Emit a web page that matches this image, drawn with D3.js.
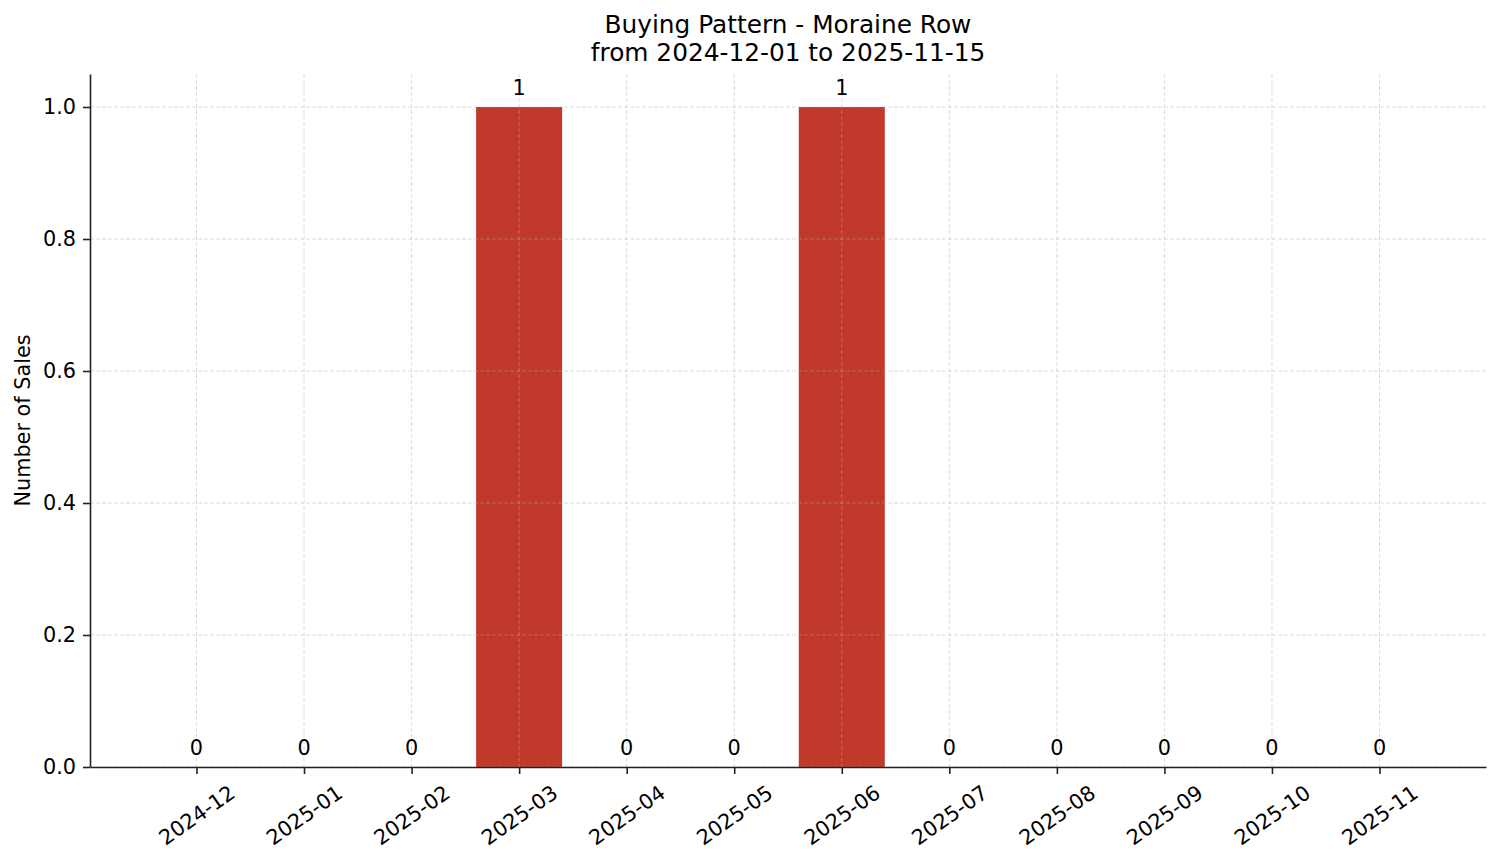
<!DOCTYPE html>
<html>
<head>
<meta charset="utf-8">
<script src="https://cdn.jsdelivr.net/npm/d3@7"></script>
<style>
  body { margin: 0; background: #fff; }
  svg { font-family: "DejaVu Sans", sans-serif; }
</style>
</head>
<body>
<svg></svg>
<script>
const WIDTH = 1501;
const HEIGHT = 863;

// data
const months = ["2024-12", "2025-01", "2025-02", "2025-03", "2025-04", "2025-05",
                "2025-06", "2025-07", "2025-08", "2025-09", "2025-10", "2025-11"];
const sales = [0, 0, 0, 1, 0, 0, 1, 0, 0, 0, 0, 0];
const yTicks = [0, 0.2, 0.4, 0.6, 0.8, 1.0];

const titleLines = ["Buying Pattern - Moraine Row", "from 2024-12-01 to 2025-11-15"];
const yLabel = "Number of Sales";

const LEFT = 90, RIGHT = 1486, TOP = 74, BOTTOM = 767;
const FONT = 20.8;

let svg = d3.select("svg")
    .attr("width", WIDTH)
    .attr("height", HEIGHT);

// bar band of 0.8 with 0.05 margins, like matplotlib
let x = d3.scaleLinear()
    .domain([-0.99, months.length - 1 + 0.99])
    .range([LEFT, RIGHT]);

let y = d3.scaleLinear()
    .domain([0, 1.05])
    .range([BOTTOM, TOP]);

const barW = x(0.8) - x(0);

// bars
svg.append("g")
    .selectAll("rect")
    .data(sales)
    .join("rect")
    .attr("x", (d, i) => x(i) - barW / 2)
    .attr("y", d => y(d))
    .attr("width", barW)
    .attr("height", d => y(0) - y(d))
    .style("fill", "#c0392b");

// grid on top of bars
let grid = svg.append("g")
    .style("stroke", "#b0b0b0")
    .style("stroke-opacity", 0.55)
    .style("stroke-width", 0.8)
    .style("stroke-dasharray", "4,2");

grid.selectAll("line.h")
    .data(yTicks)
    .join("line")
    .attr("class", "h")
    .attr("x1", LEFT)
    .attr("x2", RIGHT)
    .attr("y1", d => y(d))
    .attr("y2", d => y(d));

grid.selectAll("line.v")
    .data(months)
    .join("line")
    .attr("class", "v")
    .attr("x1", (d, i) => x(i))
    .attr("x2", (d, i) => x(i))
    .attr("y1", TOP)
    .attr("y2", BOTTOM);

// y axis
let yAxis = svg.append("g")
    .attr("transform", `translate(${LEFT},0)`)
    .call(d3.axisLeft(y).tickValues(yTicks).tickFormat(d3.format(".1f"))
        .tickSize(7).tickSizeOuter(0).tickPadding(7));

// x axis
let xAxis = svg.append("g")
    .attr("transform", `translate(0,${BOTTOM})`)
    .call(d3.axisBottom(x).tickValues(d3.range(months.length)).tickFormat(i => months[i])
        .tickSize(7).tickSizeOuter(0).tickPadding(7));

[yAxis, xAxis].forEach(a => {
    a.select(".domain").style("stroke", "#222").style("stroke-width", 1.6);
    a.selectAll(".tick line").style("stroke", "#222").style("stroke-width", 1.6);
    a.selectAll("text")
        .style("font-family", "DejaVu Sans")
        .style("font-size", FONT + "px")
        .style("fill", "#000");
});

// rotated x labels: bounding box centred under the tick
const ang = 35 * Math.PI / 180;
xAxis.selectAll(".tick text").each(function () {
    let t = d3.select(this);
    let w = this.getComputedTextLength();
    let h = FONT * 1.1;
    let bh = w * Math.sin(ang) + h * Math.cos(ang);
    t.attr("y", null)
        .attr("dy", null)
        .attr("text-anchor", "middle")
        .attr("dominant-baseline", "central")
        .attr("transform", `translate(0,${14 + bh / 2}) rotate(-35)`);
});

// bar labels
svg.append("g")
    .selectAll("text")
    .data(sales)
    .join("text")
    .attr("x", (d, i) => x(i))
    .attr("y", d => y(d) - 12)
    .attr("text-anchor", "middle")
    .style("font-size", FONT + "px")
    .text(d => d);

// title
svg.append("text")
    .attr("x", (LEFT + RIGHT) / 2)
    .attr("text-anchor", "middle")
    .style("font-size", "24.8px")
    .selectAll("tspan")
    .data(titleLines)
    .join("tspan")
    .attr("x", (LEFT + RIGHT) / 2)
    .attr("y", (d, i) => 33 + i * 28)
    .text(d => d);

// y label
svg.append("text")
    .attr("transform", `translate(30,${(TOP + BOTTOM) / 2}) rotate(-90)`)
    .attr("text-anchor", "middle")
    .style("font-size", FONT + "px")
    .text(yLabel);
</script>
</body>
</html>
